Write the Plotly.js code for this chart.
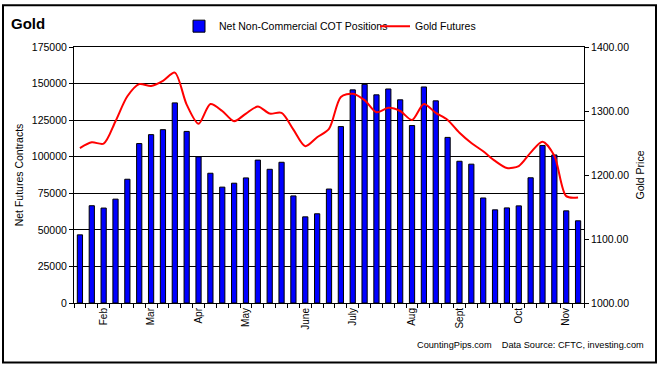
<!DOCTYPE html>
<html>
<head>
<meta charset="utf-8">
<script src="https://cdn.plot.ly/plotly-3.0.1.min.js"></script>
<style>
  html, body { margin: 0; padding: 0; background: #ffffff; }
  #chart { width: 659px; height: 366px; }
</style>
</head>
<body>
<div id="chart"></div>
<script>
// Weekly COT report dates (categories)
const weeks = [
  '2014-01-21','2014-01-28','2014-02-04','2014-02-11','2014-02-18','2014-02-25',
  '2014-03-04','2014-03-11','2014-03-18','2014-03-25','2014-04-01','2014-04-08',
  '2014-04-15','2014-04-22','2014-04-29','2014-05-06','2014-05-13','2014-05-20',
  '2014-05-27','2014-06-03','2014-06-10','2014-06-17','2014-06-24','2014-07-01',
  '2014-07-08','2014-07-15','2014-07-22','2014-07-29','2014-08-05','2014-08-12',
  '2014-08-19','2014-08-26','2014-09-02','2014-09-09','2014-09-16','2014-09-23',
  '2014-09-30','2014-10-07','2014-10-14','2014-10-21','2014-10-28','2014-11-04',
  '2014-11-11'
];

// Net non-commercial COT positions (contracts)
const netPositions = [
  46600, 66500, 64900, 71000, 84600, 109000,
  115100, 118500, 136800, 117300, 99900, 88700,
  79200, 81900, 85500, 97700, 91400, 96200,
  73200, 58900, 61000, 77900, 120600, 145700,
  149500, 142300, 146300, 138900, 121300, 147700,
  138200, 113200, 96900, 94900, 71800, 63700,
  65000, 66400, 85600, 107700, 101200, 63000,
  56200
];

// Gold futures price
const goldPrice = [
  1242, 1251, 1249, 1284, 1323, 1342,
  1339, 1347, 1360, 1310, 1280, 1311,
  1300, 1284, 1296, 1307, 1296, 1297,
  1271, 1245, 1259, 1272, 1322, 1327,
  1317, 1298, 1305, 1300, 1286, 1311,
  1297, 1286, 1266, 1250, 1237, 1222,
  1211, 1214, 1235, 1252, 1230, 1167,
  1165
];

// Month tick labels and the weeks they sit on
const monthTickWeeks = ['2014-02-04','2014-03-04','2014-04-01','2014-04-29','2014-06-03',
                        '2014-07-01','2014-08-05','2014-09-02','2014-10-07','2014-11-04'];
const monthTickText = ['Feb','Mar','Apr','May','June','July','Aug','Sept','Oct','Nov'];

const tickText = weeks.map(w => {
  const i = monthTickWeeks.indexOf(w);
  return i >= 0 ? monthTickText[i] : '';
});

const FONT = 'Liberation Sans, Arial, sans-serif';

const traces = [
  {
    type: 'bar',
    name: 'Net Non-Commercial COT Positions',
    x: weeks,
    y: netPositions,
    marker: { color: '#0000FF', line: { color: '#000000', width: 1 } },
    yaxis: 'y',
    legend: 'legend'
  },
  {
    type: 'scatter',
    mode: 'lines',
    name: 'Gold Futures',
    x: weeks,
    y: goldPrice,
    line: { color: '#FF0000', width: 2, shape: 'spline', smoothing: 0.8 },
    yaxis: 'y2',
    legend: 'legend2'
  }
];

const L = 74, R = 75, T = 45, B = 63, W = 659, H = 366;
const pw = W - L - R, ph = H - T - B;
const px = v => (v - L) / pw;
const py = v => (H - B - v) / ph;

const legendFont = { family: FONT, size: 10.5, color: '#000000' };

const layout = {
  width: W, height: H,
  margin: { l: L, r: R, t: T, b: B, pad: 0 },
  paper_bgcolor: '#ffffff',
  plot_bgcolor: '#ffffff',
  font: { family: FONT, size: 11, color: '#000000' },
  bargap: 0.56,
  showlegend: true,
  legend: {
    orientation: 'h',
    x: px(179), y: py(24), xanchor: 'left', yanchor: 'middle',
    font: legendFont, bgcolor: 'rgba(0,0,0,0)'
  },
  legend2: {
    orientation: 'h',
    x: px(375), y: py(24), xanchor: 'left', yanchor: 'middle',
    font: legendFont, bgcolor: 'rgba(0,0,0,0)'
  },
  xaxis: {
    type: 'category',
    range: [-0.5, weeks.length - 0.5],
    tickmode: 'array',
    tickvals: weeks,
    ticktext: tickText,
    tickson: 'boundaries',
    ticks: 'outside', ticklen: 4, tickcolor: '#000000', tickwidth: 1,
    tickangle: -90,
    tickfont: { family: FONT, size: 10, color: '#000000' },
    showline: true, linecolor: '#000000', linewidth: 1, mirror: true,
    showgrid: false, zeroline: false, fixedrange: true
  },
  yaxis: {
    range: [0, 175000],
    tickmode: 'linear', tick0: 0, dtick: 25000,
    tickformat: 'd',
    ticks: 'outside', ticklen: 4, tickcolor: '#000000',
    showline: true, linecolor: '#000000', linewidth: 1,
    showgrid: true, gridcolor: '#000000', gridwidth: 1,
    zeroline: false,
    tickfont: { family: FONT, size: 10.5, color: '#000000' },
    title: { text: 'Net Futures Contracts', font: { family: FONT, size: 10.5, color: '#000000' }, standoff: 6 },
    fixedrange: true
  },
  yaxis2: {
    overlaying: 'y', side: 'right',
    range: [1000, 1400],
    tickmode: 'linear', tick0: 1000, dtick: 100,
    tickformat: '.2f',
    ticks: 'outside', ticklen: 4, tickcolor: '#000000',
    showline: true, linecolor: '#000000', linewidth: 1,
    showgrid: false, zeroline: false,
    tickfont: { family: FONT, size: 10.5, color: '#000000' },
    title: { text: 'Gold Price', font: { family: FONT, size: 10.5, color: '#000000' }, standoff: 8 },
    fixedrange: true
  },
  annotations: [
    {
      text: '<b>Gold</b>', xref: 'paper', yref: 'paper',
      x: px(9), y: py(21), xanchor: 'left', yanchor: 'middle', showarrow: false,
      font: { family: FONT, size: 15, color: '#000000' }
    },
    {
      text: 'CountingPips.com&nbsp;&nbsp;&nbsp;&nbsp;Data Source: CFTC, investing.com',
      xref: 'paper', yref: 'paper',
      x: px(646), y: py(345), xanchor: 'right', yanchor: 'middle', showarrow: false,
      font: { family: FONT, size: 9.2, color: '#000000' }
    }
  ],
  shapes: [
    {
      type: 'rect', xref: 'paper', yref: 'paper',
      x0: px(3), x1: px(656), y0: py(3), y1: py(363),
      line: { color: '#000000', width: 2 }, fillcolor: 'rgba(0,0,0,0)', layer: 'below'
    }
  ]
};

Plotly.newPlot('chart', traces, layout, { displayModeBar: false, staticPlot: true });
</script>
</body>
</html>
